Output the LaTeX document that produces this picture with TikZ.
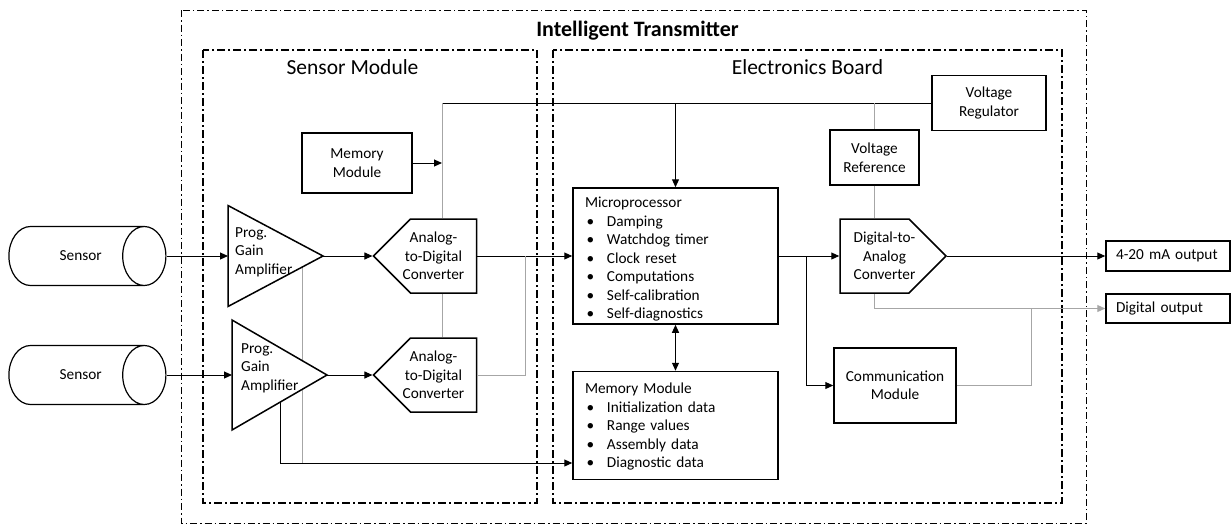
\documentclass[tikz,border=0pt]{standalone}
\usepackage{fontspec}
\setmainfont{Carlito}
\usetikzlibrary{shapes.geometric, shapes.symbols, arrows.meta, positioning, calc, backgrounds}
\newcommand{\bodyfont}{\fontsize{15.3}{18.5}\selectfont}
\newcommand{\bul}{\hspace*{1.5pt}\makebox[20.5pt][l]{\textbullet}}

\begin{document}
\begin{tikzpicture}[
    x=1pt, y=-1pt,
    >={Triangle[length=8pt,width=7pt]},
    blk/.style={draw, rectangle, line width=1.5pt, inner sep=0pt, align=center, font=\bodyfont, fill=white},
    lst/.style={blk, align=left, text width=181pt},
    amp/.style={draw, isosceles triangle, isosceles triangle stretches, line width=1.5pt, inner sep=0pt, outer sep=0pt, anchor=apex, minimum height=95pt, fill=white},
    conv/.style={draw, signal, signal pointer angle=90, line width=1.5pt, inner sep=0pt, minimum width=103pt, minimum height=74pt, fill=white},
    sens/.style={draw, cylinder, line width=1.2pt, aspect=0.9, inner ysep=24pt, minimum height=157pt, minimum width=59pt, anchor=east,
                 label={[font=\bodyfont, xshift=15pt]center:Sensor}},
    lbl/.style={inner sep=0pt, font=\bodyfont, align=left},
    frame/.style={line width=1pt, dash pattern=on 7pt off 3pt on 1.5pt off 3pt},
    module/.style={line width=2pt, dash pattern=on 8pt off 3pt on 2pt off 3pt},
    sig/.style={line width=1pt},
    pwr/.style={line width=1pt, gray!70}
  ]
  \useasboundingbox (0,0) rectangle (1231,525);

  % Frames
  \draw[frame] (181,10) rectangle (1086,523);
  \draw[module] (203,50) rectangle (537,503);
  \draw[module] (553,50) rectangle (1062,503);
  \node[font=\bfseries\fontsize{22}{26}\selectfont] (ttl) at (637.5,31) {Intelligent Transmitter};
  \node[font=\fontsize{21.5}{26}\selectfont] (smttl) at (352.5,67.5) {Sensor Module};
  \node[font=\fontsize{21.5}{26}\selectfont] (ebttl) at (807.5,67.5) {Electronics Board};

  % Sensor module
  \node[sens] (sen1) at (166.5,256) {};
  \node[sens] (sen2) at (166.5,375) {};
  \node[amp, minimum width=101pt] (amp1) at (323,256) {};
  \node[amp, minimum width=110pt] (amp2) at (327,375) {};
  \node[lbl, anchor=west] (amp1txt) at ([shift={(7,-4)}]amp1.lower side) {Prog.\\Gain\\Amplifier};
  \node[lbl, anchor=west] (amp2txt) at ([shift={(9,-7)}]amp2.lower side) {Prog.\\Gain\\Amplifier};
  \node[conv, signal to=west,
        label={[font=\bodyfont, align=center, xshift=-10pt]center:Analog-\\to-Digital\\Converter}] (adc1) at (443.5,256) {};
  \node[conv, signal to=west,
        label={[font=\bodyfont, align=center, xshift=-10pt]center:Analog-\\to-Digital\\Converter}] (adc2) at (443.5,375) {};
  \node[blk, minimum width=110pt, minimum height=60pt] (mem1) at (357,163) {Memory\\Module};

  % Electronics board
  \node[lst, minimum width=205pt, minimum height=136pt, text depth=107pt] (mpu) at (675.5,256)
    {Microprocessor\\\bul Damping\\\bul Watchdog timer\\\bul Clock reset\\\bul Computations\\\bul Self-calibration\\\bul Self-diagnostics};
  \node[lst, minimum width=205pt, minimum height=108pt, text depth=74pt] (mem) at (675.5,425.5)
    {Memory Module\\\bul Initialization data\\\bul Range values\\\bul Assembly data\\\bul Diagnostic data};
  \node[blk, minimum width=114pt, minimum height=55pt] (vreg) at (989,103) {Voltage\\Regulator};
  \node[blk, minimum width=89pt, minimum height=55pt] (vref) at (874.5,157.5) {Voltage\\Reference};
  \node[conv, signal to=east, minimum width=106pt,
        label={[font=\bodyfont, align=center, xshift=10pt]center:Digital-to-\\Analog\\Converter}] (dac) at (874.5,256) {};
  \node[blk, minimum width=122pt, minimum height=75pt] (comm) at (895,385.5) {Communication\\Module};

  % Outputs
  \node[blk, minimum height=30pt, text width=104pt, inner xsep=10pt, align=left] (aout) at (1168,256) {4-20 mA output};
  \node[blk, minimum height=29pt, text width=104pt, inner xsep=10pt, align=left] (dout) at (1168,308.5) {Digital output};

  % Connections
  \coordinate (pj) at (442,103);
  \coordinate (aj) at (525,256);
  \coordinate (cj) at (806,256);
  \coordinate (dj) at (1031,308.5);
  \coordinate (g1) at (302,463);
  \coordinate (g2) at (280,463);
  \draw[sig,->] (sen1.east) -- (amp1.lower side);
  \draw[sig,->] (sen2.east) -- (amp2.lower side);
  \draw[sig,->] (amp1.apex) -- (adc1.west);
  \draw[sig,->] (amp2.apex) -- (adc2.west);
  \draw[sig,->] (adc1.east) -- (mpu.west);
  \draw[pwr] (adc2.east) -| (aj);
  \draw[sig] (vreg.west) -- (pj);
  \draw[pwr] (pj) -- (pj |- adc1.north);
  \draw[pwr] (pj |- adc1.south) -- (pj |- adc2.north);
  \draw[sig,->] (mem1.east) -- (mem1.east -| pj);
  \draw[sig,->] (pj -| mpu.north) -- (mpu.north);
  \draw[pwr] (pj -| vref.north) -- (vref.north);
  \draw[pwr] (vref.south) -- (vref.south |- dac.north);
  \draw[sig,<->] (mpu.south) -- (mem.north);
  \draw[sig,->] (mpu.east) -- (dac.west);
  \draw[sig,->] (cj) |- (comm.west);
  \draw[sig,->] (dac.east) -- (aout.west);
  \draw[pwr,->] (vref.south |- dac.south) |- (dout.west);
  \draw[pwr] (comm.east) -| (dj);
  \begin{scope}[on background layer]
    \draw[pwr] (g1) -- (g1 |- amp1.apex);
    \draw[sig] (g2) -- (g2 |- amp2.apex);
  \end{scope}
  \draw[sig,->] (g2) -- (g2 -| mem.west);
\end{tikzpicture}
\end{document}
